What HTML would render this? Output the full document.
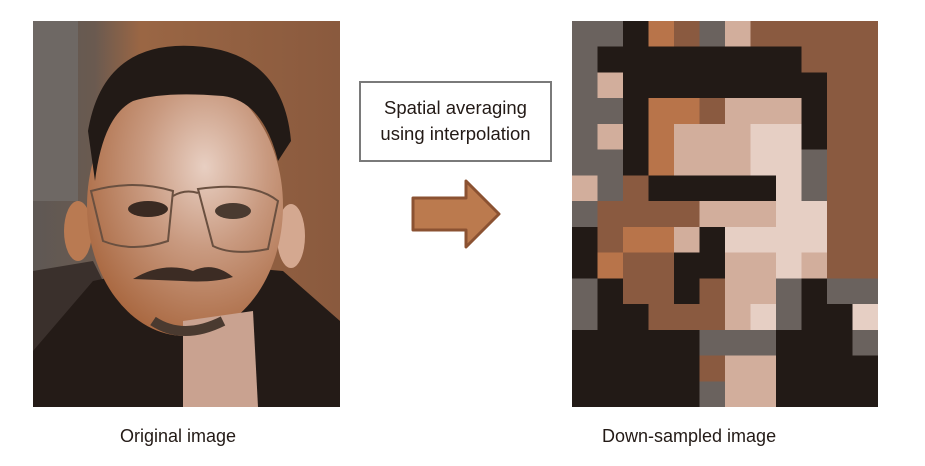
<!DOCTYPE html>
<html><head><meta charset="utf-8"><style>
body{margin:0;width:925px;height:466px;background:#fff;overflow:hidden;position:relative;font-family:"Liberation Sans",sans-serif;color:#231a16}
.lbl{position:absolute;font-size:18px;white-space:nowrap}
.box{position:absolute;left:359px;top:81px;width:189px;height:77px;border:2px solid #7a7a7a;background:#fff;text-align:center;font-size:18.5px;line-height:26px;box-sizing:content-box}
</style></head><body>
<svg style="position:absolute;left:33px;top:21px" width="307" height="386" viewBox="0 0 307 386">
<defs>
<radialGradient id="face" cx="0.6" cy="0.35" r="0.7"><stop offset="0" stop-color="#e8cfc2"/><stop offset="0.45" stop-color="#c99a80"/><stop offset="1" stop-color="#a8663e"/></radialGradient>
<linearGradient id="bgr" x1="0" x2="1"><stop offset="0" stop-color="#5e5854"/><stop offset="0.2" stop-color="#6a5a50"/><stop offset="0.35" stop-color="#9a6644"/><stop offset="1" stop-color="#8a5a3e"/></linearGradient>
</defs>
<rect width="307" height="386" fill="url(#bgr)"/>
<rect x="0" y="0" width="45" height="180" fill="#6e6864"/>
<path d="M0 250 L60 240 L90 300 L40 386 L0 386Z" fill="#3a302c"/>
<path d="M60 260 Q150 240 250 250 L307 300 L307 386 L0 386 L0 330Z" fill="#241b17"/>
<ellipse cx="45" cy="210" rx="14" ry="30" fill="#b97a52"/>
<ellipse cx="258" cy="215" rx="14" ry="32" fill="#d4a890"/>
<ellipse cx="152" cy="185" rx="98" ry="130" fill="url(#face)"/>
<path d="M150 300 L220 290 L225 386 L150 386Z" fill="#c9a290"/>
<path d="M55 110 Q70 20 160 25 Q250 30 258 120 L245 140 Q230 80 190 75 Q130 70 100 80 Q70 95 62 160Z" fill="#221a16"/>
<path d="M100 258 Q130 240 160 250 Q180 240 200 256 Q180 262 150 260Z" fill="#3c2c24"/>
<path d="M120 300 Q150 320 190 300" stroke="#4a3a30" stroke-width="10" fill="none"/>
<g fill="none" stroke="#6a5040" stroke-width="2">
<path d="M58 170 Q100 158 140 170 L135 220 Q100 232 70 220Z"/>
<path d="M165 168 Q220 160 245 180 L235 228 Q200 235 180 225Z"/>
<path d="M140 175 Q152 168 165 172"/>
</g>
<ellipse cx="115" cy="188" rx="20" ry="8" fill="#3a2a22"/>
<ellipse cx="200" cy="190" rx="18" ry="8" fill="#4a3a30"/>
</svg>

<svg style="position:absolute;left:572px;top:21px" width="306" height="386" viewBox="0 0 12 15" preserveAspectRatio="none" shape-rendering="crispEdges" id="px"></svg>

<div class="box"><div style="margin-top:12px">Spatial averaging</div><div>using interpolation</div></div>

<svg style="position:absolute;left:410px;top:178px" width="92" height="72" viewBox="0 0 92 72">
<path d="M3 20 H56 V3 L89 36 L56 69 V52 H3Z" fill="#bb7a4e" stroke="#8b5232" stroke-width="3" stroke-linejoin="round"/>
</svg>

<div class="lbl" style="left:120px;top:426px">Original image</div>
<div class="lbl" style="left:602px;top:426px">Down-sampled image</div>

<script>
var C={D:"#221a16",G:"#6a625e",O:"#b8744a",L:"#d2ae9c",B:"#8a5a40",P:"#e6cfc4"};
var rows=["GGDOBGLBBBBB","GDDDDDDDDBBB","GLDDDDDDDDBB","GGDOOBLLLDBB","GLDOLLLPPDBB","GGDOLLLPPGBB","LGBDDDDDPGBB","GBBBBLLLPPBB","DBOOLDPPPPBB","DOBBDDLLPLBB","GDBBDBLLGDGG","GDDBBBLPGDDP","DDDDDGGGDDDG","DDDDDBLLDDDD","DDDDDGLLDDDD"];
var s="";rows.forEach(function(r,y){for(var x=0;x<12;x++)s+='<rect x="'+x+'" y="'+y+'" width="1.02" height="1.02" fill="'+C[r[x]]+'"/>';});
document.getElementById("px").innerHTML=s;
</script>
</body></html>
